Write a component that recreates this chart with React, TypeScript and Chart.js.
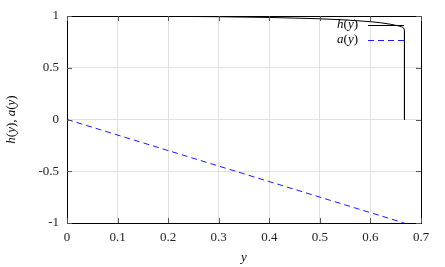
import React, { useEffect, useRef } from "react";
import { Chart, registerables } from "chart.js";

Chart.register(...registerables);

const hX = [0, 0.1, 0.2, 0.3, 0.4, 0.45, 0.5, 0.55, 0.6, 0.62, 0.64, 0.655, 0.662, 0.6655, 0.6673, 0.6673];
const hY = [1, 0.999, 0.997, 0.993, 0.986, 0.98, 0.973, 0.962, 0.945, 0.935, 0.92, 0.905, 0.895, 0.885, 0.86, 0];
const aX = [0, 0.6667];
const aY = [0, -1];
const xTicks = [0, 0.1, 0.2, 0.3, 0.4, 0.5, 0.6, 0.7];
const yTicks = [-1, -0.5, 0, 0.5, 1];
const legendItems = [
  { parts: [["h", true], ["(", false], ["y", true], [")", false]], color: "#000000", dash: [] as number[] },
  { parts: [["a", true], ["(", false], ["y", true], [")", false]], color: "#1a1aff", dash: [6, 4] },
];
const yTitle: [string, boolean][] = [["h", true], ["(", false], ["y", true], ["), ", false], ["a", true], ["(", false], ["y", true], [")", false]];
const xTitle: [string, boolean][] = [["y", true]];

const FONT = "'Liberation Serif', 'DejaVu Serif', serif";
const FS = 13;

function mixedWidth(ctx: CanvasRenderingContext2D, parts: any[]) {
  let w = 0;
  for (const [t, it] of parts) {
    ctx.font = `${it ? "italic " : ""}${FS}px ${FONT}`;
    w += ctx.measureText(t).width;
  }
  return w;
}
function drawMixed(ctx: CanvasRenderingContext2D, parts: any[], x: number, y: number, align: "left" | "right" | "center") {
  const w = mixedWidth(ctx, parts);
  let cx = align === "left" ? x : align === "right" ? x - w : x - w / 2;
  ctx.textBaseline = "middle";
  ctx.textAlign = "left";
  for (const [t, it] of parts) {
    ctx.font = `${it ? "italic " : ""}${FS}px ${FONT}`;
    ctx.fillText(t, cx, y);
    cx += ctx.measureText(t).width;
  }
}

const decor = {
  id: "decor",
  afterDraw(chart: any) {
    const { ctx, chartArea: a, scales } = chart;
    ctx.save();
    ctx.strokeStyle = "#000";
    ctx.lineWidth = 1;
    ctx.setLineDash([]);
    ctx.strokeRect(a.left + 0.5, a.top + 0.5, a.right - a.left, a.bottom - a.top);
    ctx.strokeStyle = "#555";
    for (const v of xTicks) {
      const px = Math.round(scales.x.getPixelForValue(v)) + 0.5;
      ctx.beginPath();
      ctx.moveTo(px, a.bottom); ctx.lineTo(px, a.bottom - 5);
      ctx.moveTo(px, a.top); ctx.lineTo(px, a.top + 5);
      ctx.stroke();
    }
    for (const v of yTicks) {
      const py = Math.round(scales.y.getPixelForValue(v)) + 0.5;
      ctx.beginPath();
      ctx.moveTo(a.left, py); ctx.lineTo(a.left + 5, py);
      ctx.moveTo(a.right, py); ctx.lineTo(a.right - 5, py);
      ctx.stroke();
    }
    ctx.fillStyle = "#000";
    legendItems.forEach((it, i) => {
      const y = 25 + i * 15;
      drawMixed(ctx, it.parts, 358, y, "right");
      ctx.strokeStyle = it.color;
      ctx.setLineDash(it.dash);
      ctx.beginPath();
      ctx.moveTo(368, y + 0.5);
      ctx.lineTo(404, y + 0.5);
      ctx.stroke();
    });
    ctx.setLineDash([]);
    ctx.fillStyle = "#000";
    drawMixed(ctx, xTitle, (a.left + a.right) / 2, 258, "center");
    ctx.translate(12, (a.top + a.bottom) / 2);
    ctx.rotate(-Math.PI / 2);
    drawMixed(ctx, yTitle, 0, 0, "center");
    ctx.restore();
  },
};

export default function App() {
  const ref = useRef<HTMLCanvasElement>(null);
  useEffect(() => {
    document.body.style.margin = "0";
    const chart = new Chart(ref.current!, {
      type: "line",
      data: {
        datasets: [
          {
            label: "h(y)",
            data: hX.map((x, i) => ({ x, y: hY[i] })),
            borderColor: "#000000",
            borderWidth: 1,
            pointRadius: 0,
            tension: 0,
          },
          {
            label: "a(y)",
            data: aX.map((x, i) => ({ x, y: aY[i] })),
            borderColor: "#1a1aff",
            borderWidth: 1,
            borderDash: [6, 4],
            pointRadius: 0,
            tension: 0,
          },
        ],
      },
      options: {
        animation: false,
        responsive: false,
        maintainAspectRatio: false,
        layout: { padding: { top: 16, right: 24, left: 0, bottom: 0 } },
        plugins: { legend: { display: false }, tooltip: { enabled: false } },
        scales: {
          x: {
            type: "linear",
            min: 0,
            max: 0.7,
            afterBuildTicks: (s: any) => { s.ticks = xTicks.map((v) => ({ value: v })); },
            afterFit: (s: any) => { s.height = 44; },
            grid: { color: "#e0e0e0", drawTicks: false },
            border: { display: false },
            ticks: {
              color: "#222",
              font: { family: FONT, size: FS },
              padding: 7,
              maxRotation: 0,
              callback: (v: any) => (Math.round(v * 10) / 10).toString(),
            },
          },
          y: {
            type: "linear",
            min: -1,
            max: 1,
            afterBuildTicks: (s: any) => { s.ticks = yTicks.map((v) => ({ value: v })); },
            afterFit: (s: any) => { s.width = 67; },
            grid: { color: "#e0e0e0", drawTicks: false },
            border: { display: false },
            ticks: {
              color: "#222",
              font: { family: FONT, size: FS },
              padding: 8,
              callback: (v: any) => (Math.round(v * 10) / 10).toString(),
            },
          },
        },
      },
      plugins: [decor],
    });
    return () => chart.destroy();
  }, []);
  return (
    <div style={{ position: "fixed", left: 0, top: 0, width: 445, height: 267 }}>
      <canvas ref={ref} width={445} height={267} style={{ width: 445, height: 267 }} />
    </div>
  );
}
